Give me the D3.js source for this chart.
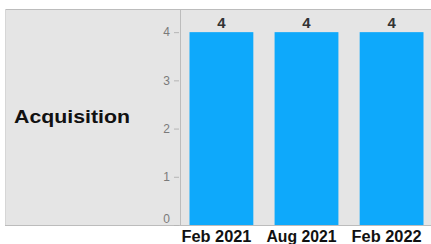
<!DOCTYPE html>
<html><head><meta charset="utf-8">
<script src="https://cdn.jsdelivr.net/npm/d3@7"></script>
<style>body{margin:0;background:#fff}svg{display:block}</style>
</head><body>
<svg id="c" width="431" height="244"></svg>
<script>
const categories = ["Feb 2021", "Aug 2021", "Feb 2022"];
const values = [4, 4, 4];
const yTicks = [0, 1, 2, 3, 4];
const rowLabel = "Acquisition";

const svg = d3.select("#c");
const panel = {left: 5, top: 9, right: 431, bottom: 225, split: 181};

// backgrounds
svg.append("rect").attr("x", panel.left).attr("y", panel.top)
  .attr("width", panel.split - panel.left).attr("height", panel.bottom - panel.top)
  .attr("fill", "#e5e5e5");
svg.append("rect").attr("x", panel.split).attr("y", panel.top)
  .attr("width", panel.right - panel.split).attr("height", panel.bottom - panel.top)
  .attr("fill", "#e5e5e5");
// borders
const bc = "#bcbcbc";
svg.append("line").attr("x1", panel.left).attr("x2", panel.right).attr("y1", panel.top + 0.5).attr("y2", panel.top + 0.5).attr("stroke", bc);
svg.append("line").attr("x1", panel.left).attr("x2", panel.right).attr("y1", panel.bottom + 0.5).attr("y2", panel.bottom + 0.5).attr("stroke", bc);
svg.append("line").attr("x1", panel.left + 0.5).attr("x2", panel.left + 0.5).attr("y1", panel.top).attr("y2", panel.bottom).attr("stroke", "#d6d6d6");
svg.append("line").attr("x1", panel.split - 0.5).attr("x2", panel.split - 0.5).attr("y1", panel.top).attr("y2", panel.bottom).attr("stroke", bc);

const x = d3.scaleBand().domain(categories).range([panel.split, 432]).paddingInner(0.25).paddingOuter(0.1);
const y = d3.scaleLinear().domain([0, 4.48]).range([panel.bottom, panel.top]);

// y axis
const yAxis = d3.axisLeft(y).tickValues(yTicks).tickSize(5).tickPadding(4).tickFormat(d3.format("d"));
const ga = svg.append("g").attr("transform", `translate(${panel.split - 2},0)`).call(yAxis);
ga.select(".domain").remove();
ga.selectAll(".tick line").attr("stroke", "#b5b5b5");
ga.selectAll(".tick text").attr("fill", "#7a7a7a").attr("font-family", "Liberation Sans, Arial, sans-serif").attr("font-size", 12);
ga.selectAll(".tick").filter(d => d === 0).select("text").attr("dy", "-0.2em");

// bars
svg.append("g").selectAll("rect").data(values).join("rect")
  .attr("x", (d, i) => x(categories[i]))
  .attr("y", d => y(d))
  .attr("width", x.bandwidth())
  .attr("height", d => y(0) - y(d))
  .attr("fill", "#0ea9fb");

// value labels
svg.append("g").selectAll("text").data(values).join("text")
  .attr("x", (d, i) => x(categories[i]) + x.bandwidth() / 2)
  .attr("y", d => y(d) - 4)
  .attr("text-anchor", "middle")
  .attr("font-family", "Liberation Sans, Arial, sans-serif")
  .attr("font-weight", "bold").attr("font-size", 15).attr("fill", "#333")
  .text(d => d);

// x labels
const xAxis = d3.axisBottom(x).tickSize(0).tickPadding(0);
const gx = svg.append("g").attr("transform", `translate(0,${panel.bottom})`).call(xAxis);
gx.select(".domain").remove();
gx.selectAll(".tick text")
  .attr("y", 17).attr("dy", 0).attr("dx", -5)
  .attr("fill", "#111")
  .attr("font-family", "Liberation Sans, Arial, sans-serif")
  .attr("font-weight", "bold").attr("font-size", 16)
  .attr("textLength", 70).attr("lengthAdjust", "spacingAndGlyphs");

// row label
svg.append("text").attr("x", 14).attr("y", 123)
  .attr("font-family", "Liberation Sans, Arial, sans-serif")
  .attr("font-weight", "bold").attr("font-size", 18).attr("fill", "#111")
  .attr("textLength", 116).attr("lengthAdjust", "spacingAndGlyphs")
  .text(rowLabel);
</script>
</body></html>
